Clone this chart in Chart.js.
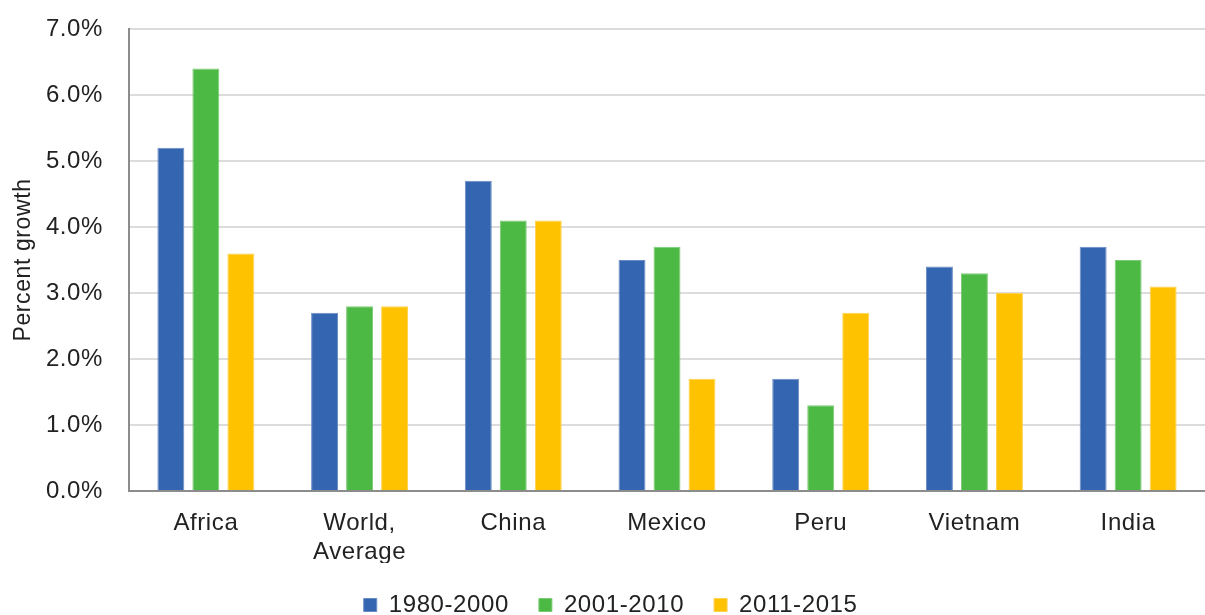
<!DOCTYPE html>
<html>
<head>
<meta charset="utf-8">
<script src="https://cdn.jsdelivr.net/npm/chart.js@4"></script>
<style>
  html, body { margin: 0; padding: 0; background: #fff; }
  #wrap { width: 1205px; height: 615px; }
</style>
</head>
<body>
<div id="wrap"><canvas id="chart" width="1205" height="615"></canvas></div>
<script>
// growth rates by region, three periods
var categories = [["Africa"], ["World,", "Average"], ["China"], ["Mexico"], ["Peru"], ["Vietnam"], ["India"]];
var seriesNames = ["1980-2000", "2001-2010", "2011-2015"];
var period1 = [5.2, 2.7, 4.7, 3.5, 1.7, 3.4, 3.7];
var period2 = [6.4, 2.8, 4.1, 3.7, 1.3, 3.3, 3.5];
var period3 = [3.6, 2.8, 4.1, 1.7, 2.7, 3.0, 3.1];
var yTicks = [0, 1, 2, 3, 4, 5, 6, 7];

var colors = ["#3465b0", "#4cb944", "#fec200"];
var borders = ["#6a8cc6", "#7ccb76", "#fed24d"];
var font = '"Liberation Sans", Arial, sans-serif';

function ds(i, data) {
  return {
    label: seriesNames[i],
    data: data,
    backgroundColor: colors[i],
    borderColor: borders[i],
    borderWidth: 1,
    barPercentage: 0.77,
    categoryPercentage: 0.683
  };
}

// the source uses slightly tracked-out text; set it after the canvas is sized
var spacing = {
  id: "spacing",
  beforeDraw: function (chart) { chart.ctx.letterSpacing = "0.6px"; }
};

new Chart(document.getElementById("chart").getContext("2d"), {
  type: "bar",
  plugins: [spacing],
  data: {
    labels: categories,
    datasets: [ds(0, period1), ds(1, period2), ds(2, period3)]
  },
  options: {
    responsive: false,
    animation: false,
    layout: { padding: { top: 1, right: 0, bottom: -12, left: 0 } },
    plugins: {
      tooltip: { enabled: false },
      legend: {
        position: "bottom",
        labels: {
          color: "#222",
          font: { family: font, size: 24 },
          boxWidth: 13,
          boxHeight: 13,
          padding: 30
        }
      }
    },
    scales: {
      x: {
        grid: { display: false, drawTicks: false },
        border: { color: "#8c8c8c", width: 2 },
        ticks: { color: "#222", font: { family: font, size: 24 }, padding: 18, maxRotation: 0 },
        afterFit: function (s) { s.height = 72; }
      },
      y: {
        min: 0,
        max: 7,
        afterBuildTicks: function (s) { s.ticks = yTicks.map(function (v) { return { value: v }; }); },
        grid: { color: "#dcdcdc", lineWidth: 2, drawTicks: false },
        border: { color: "#8c8c8c", width: 2 },
        ticks: {
          color: "#222",
          font: { family: font, size: 24 },
          padding: 26,
          callback: function (v) { return v.toFixed(1) + "%"; }
        },
        title: {
          display: true,
          text: "Percent growth",
          color: "#222",
          font: { family: font, size: 23 },
          padding: { top: 10, bottom: 0 }
        },
        afterFit: function (s) { s.width = 129; s.paddingTop = 29; }
      }
    }
  }
});
</script>
</body>
</html>
